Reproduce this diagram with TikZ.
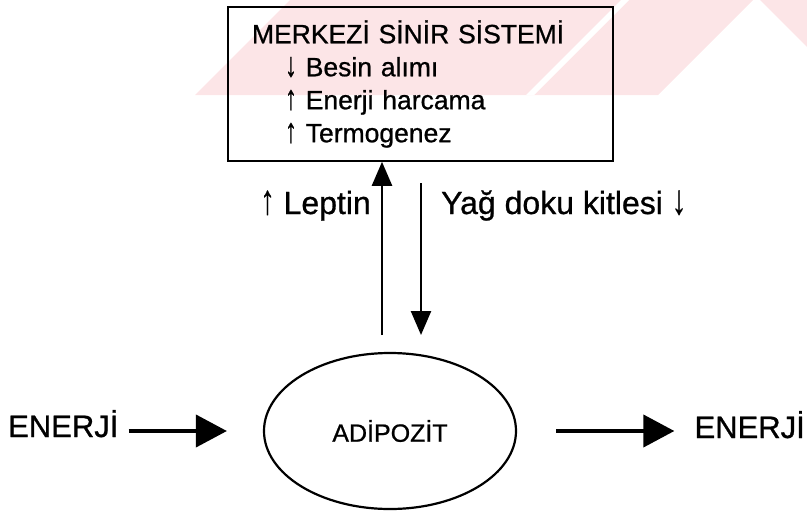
\documentclass[tikz,border=0pt]{standalone}
\usepackage{fontspec}
\usepackage{graphicx}
\setmainfont{Liberation Sans}[FakeBold=0.8]
\usepackage{tikz}
\usetikzlibrary{shapes.geometric,arrows.meta,positioning}
\definecolor{watermark}{RGB}{252,229,231}
\newcommand{\uparr}{\scalebox{0.9}[1.3]{↑}}
\newcommand{\downarr}{\scalebox{0.9}[1.3]{↓}}
\tikzset
{
    mssbox/.style = {rectangle, draw=black, line width=1.6pt, align=left, text width=337pt, minimum width=385pt, minimum height=154pt, inner sep=0pt, font=\fontsize{26.5}{33}\selectfont},
    cellnode/.style = {ellipse, draw=black, line width=2.2pt, minimum width=252pt, minimum height=156pt, inner sep=0pt, font=\fontsize{25}{28}\selectfont},
    flowtext/.style = {inner sep=0pt, font=\fontsize{32}{36}\selectfont},
    energytext/.style = {inner sep=0pt, font=\fontsize{31}{34}\selectfont},
    signal/.style = {line width=2.4pt, -{Triangle[length=24pt, width=20pt]}},
    flow/.style = {line width=4pt, -{Triangle[length=31pt, width=32pt]}}
}

\begin{document}
\begin{tikzpicture}[x=1pt, y=-1pt]
\useasboundingbox (0,0) rectangle (807,512);
\fill[watermark] (195,95) -- (290,0) -- (753,0) -- (658,95) -- cycle;
\fill[white] (526,95) -- (621,0) -- (629,0) -- (534,95) -- cycle;
\fill[watermark] (760,0) -- (807,0) -- (807,47) -- cycle;

\node[mssbox] (mss) at (420.5,84) {MERKEZİ SİNİR SİSTEMİ\\
	\hspace*{33pt}\downarr\ Besin alımı\\
	\hspace*{33pt}\uparr\ Enerji harcama\\
	\hspace*{33pt}\uparr\ Termogenez};
\node[cellnode] (cell) at (390,431) {ADİPOZİT};
\node[energytext, anchor=base west] (enerjiin) at (8,437) {ENERJİ};
\node[energytext, anchor=base east] (enerjiout) at (805,438) {ENERJİ};
\node[flowtext, anchor=base east] (leptin) at (371,214) {\uparr\ Leptin};
\node[flowtext, anchor=base west] (yag) at (441,214) {Yağ doku kitlesi \downarr};

\coordinate (leptinfoot) at (382,335);
\coordinate (yagtop) at (421,183);
\draw[signal] (leptinfoot) -- (leptinfoot |- mss.south);
\draw[signal] (yagtop) -- (yagtop |- leptinfoot);
\draw[flow, shorten <=10pt, shorten >=36pt] (enerjiin.east |- cell.west) -- (cell.west);
\draw[flow, shorten <=39pt, shorten >=20pt] (cell.east) -- (enerjiout.west |- cell.east);
\end{tikzpicture}
\end{document}
